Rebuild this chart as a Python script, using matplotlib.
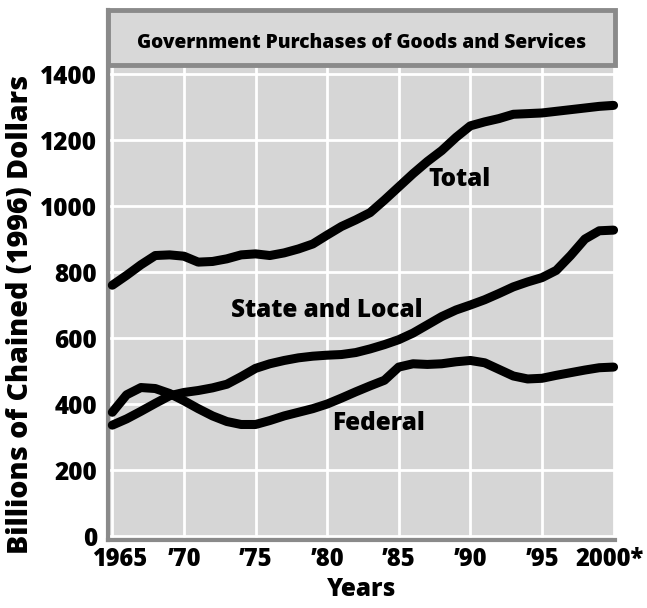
import matplotlib
matplotlib.use("Agg")
import matplotlib.pyplot as plt
from matplotlib.patches import Rectangle
from matplotlib.transforms import ScaledTranslation

years = list(range(1965, 2001))
total = [760, 790, 822, 850, 852, 848, 830, 832, 840, 852, 855, 850, 858, 870, 885,
         912, 938, 958, 980, 1018, 1058, 1098, 1135, 1168, 1208, 1243, 1255, 1265,
         1278, 1280, 1282, 1287, 1292, 1297, 1302, 1305]
state_local = [336, 355, 378, 402, 425, 435, 441, 449, 460, 483, 508, 522, 532, 540,
               545, 548, 550, 556, 567, 580, 595, 615, 640, 665, 685, 700, 716, 735,
               755, 770, 783, 805, 850, 900, 925, 927]
federal = [375, 428, 450, 447, 432, 410, 386, 364, 347, 338, 338, 350, 364, 375, 386,
           400, 418, 437, 455, 472, 512, 522, 520, 522, 528, 532, 525, 505, 485, 476,
           478, 487, 495, 503, 510, 512]

xtick_pos = [1965, 1970, 1975, 1980, 1985, 1990, 1995, 2000]
xtick_labels = ["1965", "\u201970", "\u201975", "\u201980", "\u201985", "\u201990", "\u201995", "2000*"]
ytick_pos = [0, 200, 400, 600, 800, 1000, 1200, 1400]

title = "Government Purchases of Goods and Services"
ylabel = "Billions of Chained (1996) Dollars"
xlabel = "Years"
series_labels = [("Total", 1989.25, 1079), ("State and Local", 1980.0, 682), ("Federal", 1983.6, 342)]

plt.rcParams['font.family'] = ['Open Sans', 'DejaVu Sans']

fig = plt.figure(figsize=(6.47, 6.08), dpi=100)
ax = fig.add_axes([108/647, 1 - 540/608, (615 - 108)/647, (540 - 10)/608])
ax.set_facecolor('#d6d6d6')
ax.set_xlim(1964.7, 2000.1)
ax.set_ylim(-12, 1594)

ax.set_xticks(xtick_pos)
ax.set_xticklabels(xtick_labels, fontsize=17, fontweight='heavy')
ax.set_yticks(ytick_pos)
ax.set_yticklabels([str(v) for v in ytick_pos], fontsize=17.5, fontweight='heavy')
ax.tick_params(axis='y', length=0, pad=8)
ax.tick_params(axis='x', length=0, pad=5)
xl = ax.get_xticklabels()
xl[0].set_transform(xl[0].get_transform() + ScaledTranslation(0.07, 0, fig.dpi_scale_trans))
xl[-1].set_transform(xl[-1].get_transform() + ScaledTranslation(-0.04, 0, fig.dpi_scale_trans))
ax.grid(True, color='white', linewidth=2.0)
ax.set_axisbelow(True)
for s in ['top', 'right']:
    ax.spines[s].set_visible(False)
for s in ['left', 'bottom']:
    ax.spines[s].set_color('#8a8a8a')
    ax.spines[s].set_linewidth(3)

for ys in (total, state_local, federal):
    ax.plot(years, ys, color='black', linewidth=6.5, solid_capstyle='round',
            solid_joinstyle='round', clip_on=False, zorder=3)

for txt, x, y in series_labels:
    ax.text(x, y, txt, fontsize=17.5, fontweight='heavy', ha='center', va='center', zorder=4)

band = Rectangle((0, (1427 + 12) / 1606), 1, 1 - (1427 + 12) / 1606, transform=ax.transAxes,
                 facecolor='#d8d8d8', edgecolor='#8a8a8a', linewidth=3.5, zorder=2, clip_on=False)
ax.add_patch(band)
ax.text(0.5, 0.937, title, transform=ax.transAxes, fontsize=13.8, fontweight='heavy',
        ha='center', va='center', zorder=4)

ax.set_ylabel(ylabel, fontsize=20.5, fontweight='heavy')
ax.yaxis.set_label_coords(-0.144, 0.425)
ax.set_xlabel(xlabel, fontsize=17.5, fontweight='heavy', labelpad=4)

fig.savefig("out.png", dpi=100)
